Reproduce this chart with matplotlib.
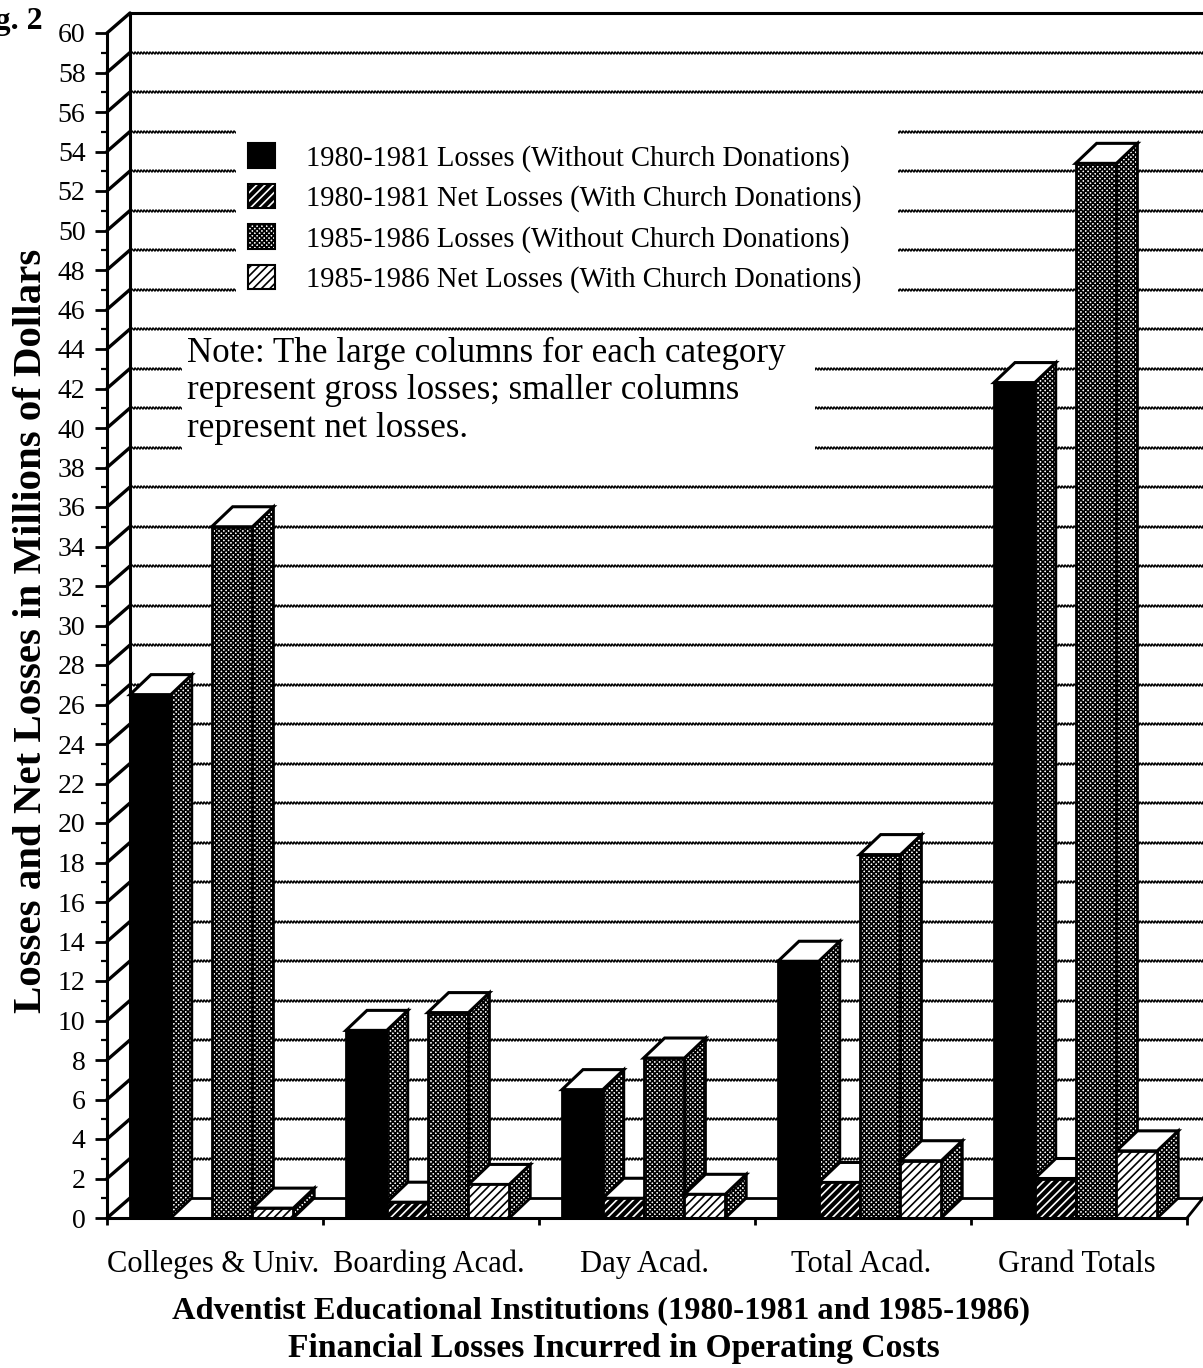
import numpy as np
import matplotlib
matplotlib.use("Agg")
import matplotlib.pyplot as plt
from matplotlib.patches import Patch, Polygon, Rectangle
from matplotlib.ticker import MultipleLocator, NullFormatter

categories = ["Colleges & Univ.", "Boarding Acad.", "Day Acad.", "Total Acad.", "Grand Totals"]
gross_1980 = [26.5, 9.5, 6.5, 13.0, 42.3]
net_1980 = [0.0, 0.8, 1.0, 1.8, 2.0]
gross_1985 = [35.0, 10.4, 8.1, 18.4, 53.4]
net_1985 = [0.5, 1.7, 1.2, 2.9, 3.4]
series_labels = [
    "1980-1981 Losses (Without Church Donations)",
    "1980-1981 Net Losses (With Church Donations)",
    "1985-1986 Losses (Without Church Donations)",
    "1985-1986 Net Losses (With Church Donations)",
]
y_ticks = list(range(0, 61, 2))

W, H = 1203, 1368
X0, Y0, Y60 = 107, 1218, 33
CAT_PX = 216
UNIT_PX = (Y0 - Y60) / 60
DX = 21 / CAT_PX
DY = 20 / UNIT_PX
WALL_DX = 23 / CAT_PX
BAR_W = 0.189

plt.rcParams["font.family"] = ["Liberation Serif", "DejaVu Serif"]
plt.rcParams["hatch.linewidth"] = 1.2
CHECK = "xxxxxxx"

fig = plt.figure(figsize=(W / 100, H / 100), dpi=100)
ax = fig.add_axes([X0 / W, (H - Y0) / H, (W - X0) / W, (Y0 - Y60) / H])
ax.set_xlim(0, (W - X0) / CAT_PX)
ax.set_ylim(0, 60)


def px(x, y):
    return (x - X0) / CAT_PX, (Y0 - y) / UNIT_PX


# wall and floor
top = 60 + DY
xmax = ax.get_xlim()[1]
for v in y_ticks[1:-1]:
    line, = ax.plot([WALL_DX, xmax], [v + DY, v + DY], color="black", lw=1.1, zorder=1, clip_on=False)
    line.set_sketch_params(scale=1.2, length=3, randomness=1)
for v in y_ticks:
    ax.plot([0, WALL_DX], [v, v + DY], color="black", lw=2.4, zorder=3, solid_capstyle="round", clip_on=False)
ax.plot([WALL_DX, WALL_DX], [DY, top], color="black", lw=2.2, zorder=1, clip_on=False)
ax.plot([WALL_DX, xmax], [top, top], color="black", lw=2.2, zorder=1, clip_on=False)
ax.plot([WALL_DX, xmax], [DY, DY], color="black", lw=2.0, zorder=1, clip_on=False)
ax.plot([5, 5 + 16 / CAT_PX], [0, DY], color="black", lw=2.0, zorder=1, clip_on=False)

# white areas behind legend and note
for (x1, y1, x2, y2) in [(236, 118, 898, 300), (182, 338, 815, 458)]:
    xa, ya = px(x1, y2)
    xb, yb = px(x2, y1)
    ax.add_patch(Rectangle((xa, ya), xb - xa, yb - ya, fc="white", ec="none", zorder=2))

# bars
styles = [
    dict(facecolor="black", edgecolor="black"),
    dict(facecolor="black", edgecolor="white", hatch="////"),
    dict(facecolor="white", edgecolor="black", hatch=CHECK),
    dict(facecolor="white", edgecolor="black", hatch="////"),
]
z = 4
for k in range(len(categories)):
    values = [gross_1980[k], net_1980[k], gross_1985[k], net_1985[k]]
    for i, val in enumerate(values):
        if val <= 0:
            continue
        left = k + WALL_DX + i * BAR_W
        right = left + BAR_W
        # side face
        side = [(right, 0), (right + DX, DY), (right + DX, val + DY), (right, val)]
        ax.add_patch(Polygon(side, closed=True, fc="white", ec="black", hatch=CHECK, lw=0, zorder=z))
        ax.add_patch(Polygon(side, closed=True, fill=False, ec="black", lw=2.0, zorder=z))
        # top face
        ax.add_patch(Polygon([(left, val), (left + DX, val + DY), (right + DX, val + DY), (right, val)],
                             closed=True, fc="white", ec="black", lw=2.2, zorder=z, clip_on=False))
        # front face
        ax.bar(left, val, width=BAR_W, align="edge", linewidth=0, zorder=z, **styles[i])
        ax.bar(left, val, width=BAR_W, align="edge", fill=False, edgecolor="black", linewidth=2.0, zorder=z)
        z += 1

# axes
for side_name in ["top", "right"]:
    ax.spines[side_name].set_visible(False)
ax.spines["left"].set_linewidth(2.2)
ax.spines["bottom"].set_linewidth(2.2)
ax.spines["bottom"].set_bounds(0, 5)
ax.spines["bottom"].set_zorder(30)
ax.spines["left"].set_zorder(30)
ax.set_yticks(y_ticks)
ax.yaxis.set_minor_locator(MultipleLocator(1))
ax.tick_params(axis="y", which="major", length=8.5, width=2, labelsize=20, pad=7)
ax.tick_params(axis="y", which="minor", length=4.5, width=1.6)
ax.set_xticks(range(6))
ax.xaxis.set_major_formatter(NullFormatter())
ax.set_xticks(np.arange(len(categories)) + 0.49, minor=True)
ax.set_xticklabels(categories, minor=True, fontsize=22)
ax.tick_params(axis="x", which="major", length=5, width=2)
ax.tick_params(axis="x", which="minor", length=0, pad=23)

ax.set_ylabel("Losses and Net Losses in Millions of Dollars", fontsize=29.4, fontweight="bold")
ax.yaxis.set_label_coords(-57 / (W - X0), (Y0 - 631) / (Y0 - Y60))
ax.set_xlabel("Adventist Educational Institutions (1980-1981 and 1985-1986)", fontsize=23.4, fontweight="bold")
ax.xaxis.set_label_coords((601 - X0) / (W - X0), -(1296 - Y0) / (Y0 - Y60))
fig.text(614 / W, 1 - 1349 / H, "Financial Losses Incurred in Operating Costs",
         fontsize=24.2, fontweight="bold", ha="center", va="center")

handles = []
for s in styles:
    outline = Patch(fill=False, edgecolor="black", linewidth=1.5)
    handles.append((Patch(facecolor=s["facecolor"], edgecolor=s["edgecolor"], hatch=s.get("hatch"), linewidth=0), outline))
leg = ax.legend(handles, series_labels, loc="upper left", bbox_to_anchor=(248 / W, 1 - 143 / H),
                bbox_transform=fig.transFigure, frameon=False, fontsize=20.6, handlelength=0.95,
                handleheight=0.95, handletextpad=1.08, labelspacing=0.42, borderpad=0, borderaxespad=0)
leg.set_zorder(40)

nx, ny = px(187, 336.5)
ax.text(nx, ny, "Note: The large columns for each category\nrepresent gross losses; smaller columns\nrepresent net losses.",
        fontsize=25.2, va="top", ha="left", linespacing=1.19, zorder=40)

fig.text(43 / W, 1 - 22 / H, "Fig. 2", fontsize=23, fontweight="bold", ha="right", va="center")

fig.savefig("out.png", dpi=100)
